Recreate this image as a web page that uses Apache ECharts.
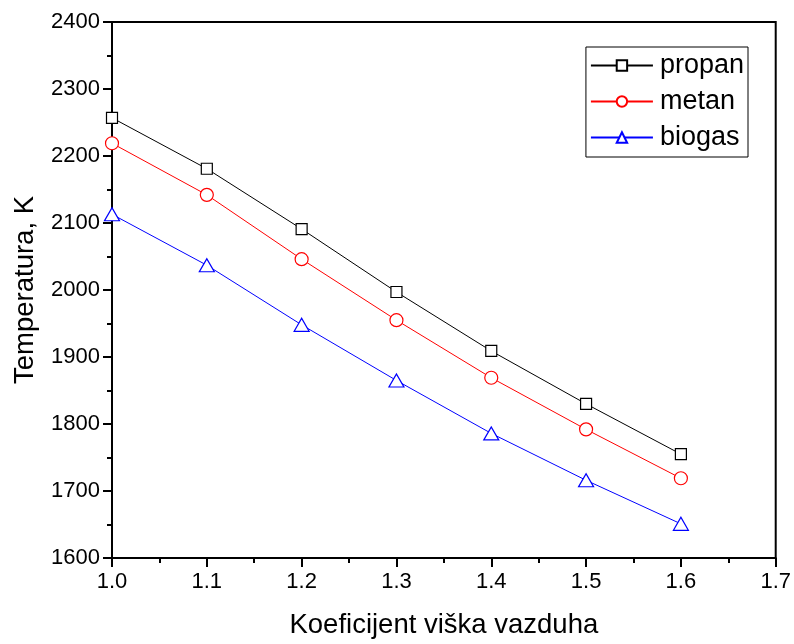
<!DOCTYPE html>
<html><head><meta charset="utf-8">
<script src="https://cdn.jsdelivr.net/npm/echarts@6/dist/echarts.min.js"></script>
<style>html,body{margin:0;padding:0;background:#fff}#c{width:794px;height:644px}</style>
</head><body><div id="c"></div>
<script>
const xValues = [1.0, 1.1, 1.2, 1.3, 1.4, 1.5, 1.6];
const propan = [2257, 2181, 2091, 1997, 1909, 1830, 1755];
const metan = [2219, 2142, 2046, 1955, 1869, 1792, 1719];
const biogas = [2113, 2037, 1948, 1865, 1786, 1716, 1651];
const seriesNames = ['propan', 'metan', 'biogas'];
const xName = 'Koeficijent viška vazduha';
const yName = 'Temperatura, K';

const font = 'Liberation Sans, Arial, sans-serif';
const chart = echarts.init(document.getElementById('c'));
function mk(name, vals, color, symbol, size) {
  return {
    name, type: 'line', data: xValues.map((x, i) => [x, vals[i]]),
    symbol, symbolSize: size, showAllSymbol: true,
    lineStyle: { color, width: 1 },
    itemStyle: { color: '#fff', borderColor: color, borderWidth: 1.2 },
    emphasis: { disabled: true }, animation: false
  };
}
chart.setOption({
  animation: false,
  grid: { left: 112, top: 22, right: 18, bottom: 84, show: true, borderColor: '#000', borderWidth: 2 },
  legend: {
    data: seriesNames, orient: 'vertical', right: 46, top: 47,
    itemWidth: 62, itemHeight: 13, itemGap: 9,
    backgroundColor: '#fff', borderColor: '#000', borderWidth: 1,
    padding: [5, 4, 6, 4],
    textStyle: { fontFamily: font, fontSize: 27, color: '#000', padding: [0, 0, 0, 2] }
  },
  xAxis: {
    type: 'value', min: 1.0, max: 1.7, interval: 0.1,
    name: xName, nameLocation: 'middle', nameGap: 53,
    nameTextStyle: { fontFamily: font, fontSize: 27.5, color: '#000' },
    axisLine: { show: true, lineStyle: { color: '#000', width: 2 } },
    axisTick: { show: true, inside: false, length: 9, lineStyle: { color: '#000', width: 2 } },
    minorTick: { show: true, splitNumber: 2, length: 5, lineStyle: { color: '#000', width: 2 } },
    axisLabel: { fontFamily: font, fontSize: 22, color: '#000', margin: 13, formatter: v => v.toFixed(1) },
    splitLine: { show: false }
  },
  yAxis: {
    type: 'value', min: 1600, max: 2400, interval: 100,
    name: yName, nameLocation: 'middle', nameGap: 73, nameRotate: 90,
    nameTextStyle: { fontFamily: font, fontSize: 27.5, color: '#000' },
    axisLine: { show: true, lineStyle: { color: '#000', width: 2 } },
    axisTick: { show: true, inside: false, length: 9, lineStyle: { color: '#000', width: 2 } },
    minorTick: { show: true, splitNumber: 2, length: 5, lineStyle: { color: '#000', width: 2 } },
    axisLabel: { fontFamily: font, fontSize: 22, color: '#000', margin: 12, formatter: v => String(v) },
    splitLine: { show: false }
  },
  series: [
    mk(seriesNames[0], propan, '#000000', 'rect', 11),
    mk(seriesNames[1], metan, '#ff0000', 'circle', 13),
    mk(seriesNames[2], biogas, '#0000ff', 'triangle', [15, 13])
  ]
});
</script></body></html>
